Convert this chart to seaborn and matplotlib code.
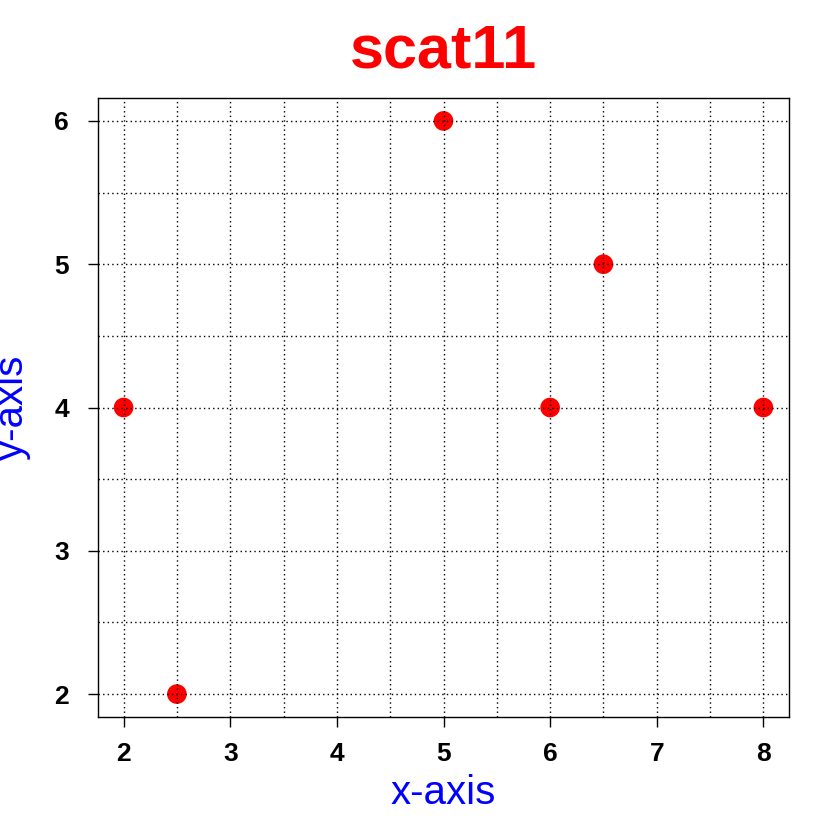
import numpy as np
import pandas as pd
import matplotlib
matplotlib.use("Agg")
import matplotlib.pyplot as plt
import seaborn as sns

# data
x_vals = [2, 2.5, 5, 6, 6.5, 8]
y_vals = [4, 2, 6, 4, 5, 4]
x_ticks = [2, 3, 4, 5, 6, 7, 8]
y_ticks = [2, 3, 4, 5, 6]
grid_x = [2, 2.5, 3, 3.5, 4, 4.5, 5, 5.5, 6, 6.5, 7, 7.5, 8]
grid_y = [2, 2.5, 3, 3.5, 4, 4.5, 5, 5.5, 6]

df = pd.DataFrame({"x": x_vals, "y": y_vals})

sns.set_style("white")
plt.rcParams["font.family"] = ["Liberation Sans", "DejaVu Sans"]

fig = plt.figure(figsize=(8.4, 8.4), dpi=100)
ax = fig.add_axes([98 / 840, 1 - 717 / 840, (789 - 98) / 840, (717 - 98) / 840])

sns.scatterplot(data=df, x="x", y="y", ax=ax, color="red", s=200,
                edgecolor="none", zorder=2)

# R-style 4% padding
xr = max(x_vals) - min(x_vals)
yr = max(y_vals) - min(y_vals)
ax.set_xlim(min(x_vals) - 0.04 * xr, max(x_vals) + 0.04 * xr)
ax.set_ylim(min(y_vals) - 0.04 * yr, max(y_vals) + 0.04 * yr)

for gx in grid_x:
    ax.axvline(gx, color="black", lw=1.0, ls=(0, (1, 2.3)), zorder=3)
for gy in grid_y:
    ax.axhline(gy, color="black", lw=1.0, ls=(0, (1, 2.3)), zorder=3)

ax.set_xticks(x_ticks)
ax.set_yticks(y_ticks)
ax.set_xticklabels([str(t) for t in x_ticks])
ax.set_yticklabels([str(t) for t in y_ticks])
ax.tick_params(axis="both", direction="out", length=7, width=1, color="black",
               labelcolor="black", labelsize=19, left=True, bottom=True)
ax.tick_params(axis="x", pad=11)
ax.tick_params(axis="y", pad=14)
for lab in ax.get_xticklabels() + ax.get_yticklabels():
    lab.set_fontweight("semibold")
for sp in ax.spines.values():
    sp.set_color("black")
    sp.set_linewidth(1)

ax.set_xlabel("x-axis", color="blue", fontsize=29, labelpad=6)
ax.set_ylabel("y-axis", color="blue", fontsize=29, labelpad=17)
ax.set_title("scat11", color="red", fontsize=44, fontweight="bold", pad=22)

fig.savefig("out.png", dpi=100)
